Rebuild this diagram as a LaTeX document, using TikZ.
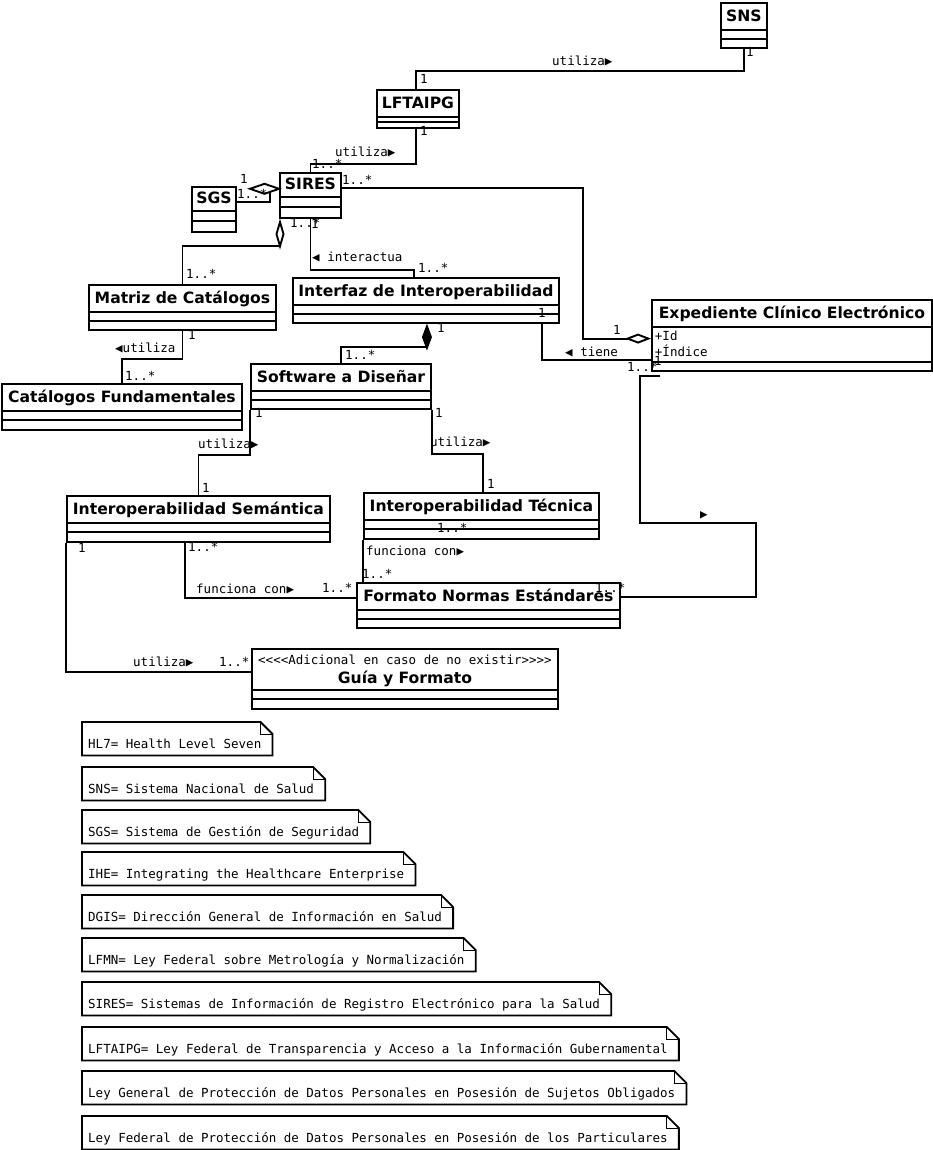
\documentclass[tikz,border=0pt]{standalone}
\usepackage{fontspec}
\setsansfont{DejaVu Sans}
\setmonofont{DejaVu Sans Mono}
\usetikzlibrary{shapes.multipart,arrows.meta}

\newcommand{\namefont}{\sffamily\bfseries\fontsize{15.6}{19}\selectfont}
\newcommand{\lblfont}{\normalfont\ttfamily\fontsize{12.5}{15}\selectfont}
% struts for the name compartment, empty compartments of a given height
\newcommand{\nstrut}{\rule[-7pt]{0pt}{25pt}}
\newcommand{\sstrut}{\rule[-6pt]{0pt}{22pt}}
\newcommand{\compbox}[1]{\hbox to 0.2pt{\rule{0pt}{#1}\hss}}
\newcommand{\emptyparts}[1]{\nodepart{two}\compbox{#1}\nodepart{three}\compbox{#1}}

\begin{document}
\begin{tikzpicture}[x=1pt,y=-1pt]
	\tikzstyle{cls}=[rectangle split, rectangle split parts=3, draw, line width=1.9pt, fill=white, anchor=north west, inner xsep=3pt, inner ysep=0pt, font=\namefont]
	\tikzstyle{link}=[draw, line width=1.9pt]
	\tikzstyle{lbl}=[anchor=west, inner sep=0pt, font=\lblfont, text height=9pt, text depth=0pt]
	\tikzstyle{note}=[anchor=north west, inner xsep=6pt, inner ysep=0pt, minimum height=33pt, text height=19pt, text depth=0pt, font=\lblfont, execute at end node={\hspace{5pt}}]
	\tikzstyle{notebox}=[draw, line width=1.8pt]
	\tikzstyle{fold}=[draw, line width=0.8pt]

	\useasboundingbox (0,0) rectangle (932,1150);

	% classes
	\node[cls, minimum width=46pt] (sns) at (720,2) {\nstrut SNS\emptyparts{7pt}};
	\node[cls, minimum width=82pt] (lftaipg) at (376,89) {\nstrut LFTAIPG\emptyparts{3.5pt}};
	\node[cls, minimum width=61pt] (sires) at (279,172) {\sstrut SIRES\emptyparts{8.5pt}};
	\node[cls, minimum width=44pt] (sgs) at (191,186) {\sstrut SGS\emptyparts{8.5pt}};
	\node[cls, minimum width=187pt] (matriz) at (88,284) {\nstrut Matriz de Catálogos\emptyparts{7pt}};
	\node[cls, minimum width=240pt] (catalogos) at (1,383) {\nstrut Catálogos Fundamentales\emptyparts{7.5pt}};
	\node[cls, minimum width=266pt] (interfaz) at (292,277) {\nstrut Interfaz de Interoperabilidad\emptyparts{7pt}};
	\node[cls, minimum width=180pt] (software) at (250,363) {\nstrut Software a Diseñar\emptyparts{7pt}};
	\node[cls, minimum width=280pt, rectangle split part align={center,left,center}] (expediente) at (651,299)
		{\nstrut Expediente Clínico Electrónico\nodepart{two}{\lblfont\begin{tabular}{@{}l@{}}\rule{0pt}{13pt}+Id\\+Índice\rule[-4pt]{0pt}{4pt}\end{tabular}}\nodepart{three}\compbox{7pt}};
	\node[cls, minimum width=263pt] (semantica) at (66,495) {\nstrut Interoperabilidad Semántica\emptyparts{7.5pt}};
	\node[cls, minimum width=235pt] (tecnica) at (363,492) {\nstrut Interoperabilidad Técnica\emptyparts{7.5pt}};
	\node[cls, minimum width=263pt] (formato) at (356,582) {\nstrut Formato Normas Estándares\emptyparts{7pt}};
	\node[cls, minimum width=306pt, align=center] (guia) at (251,648)
		{\lblfont\rule{0pt}{15pt}<<<<Adicional en caso de no existir>>>>\\\namefont Guía y Formato\rule[-5pt]{0pt}{5pt}\emptyparts{7.5pt}};

	% connectors
	\draw[link] (sns.south) -- ++(0,22) -| ([xshift=-2]lftaipg.north);
	\draw[link] ([xshift=-2]lftaipg.south) -- ++(0,35) -| (sires.north);
	\draw[link] ([yshift=7.5]sgs.east) -| ([xshift=-9,yshift=3]sires.west);
	\draw[link, fill=white] ([yshift=6.5]sires.west) -- ++(-14.5,-5) -- ++(-14.5,5) -- ++(14.5,5) -- cycle;
	\draw[link, -{Diamond[open, length=31pt, width=9pt]}] (matriz.north) -- ++(0,-38) -| ([xshift=1]sires.south west);
	\draw[link] (sires.south) -- ++(0,51) -| ([xshift=-12]interfaz.north);
	\draw[link, -{Diamond[open, length=26pt, width=10pt]}] ([yshift=7.5]sires.east) -- ++(241,0) |- ([yshift=-3]expediente.west);
	\draw[link] ([xshift=116]interfaz.south) |- ([yshift=-24]expediente.west);
	\draw[link, -{Diamond[length=27pt, width=10pt]}] (software.north) -- ++(0,-16) -| ([xshift=1]interfaz.south);
	\draw[link] (matriz.south) -- ++(0,28) -| (catalogos.north);
	\draw[link] (software.south west) -- ++(0,45) -| (semantica.north);
	\draw[link] (software.south east) -- ++(0,44) -| ([xshift=1.5]tecnica.north);
	\draw[link] ([xshift=-13.5]semantica.south) |- ([yshift=7.5]formato.west);
	\draw[link] (tecnica.south west) -- (tecnica.south west |- formato.north);
	\draw[link] (semantica.south west) |- ([yshift=7]guia.west);
	\draw[link] ([xshift=9,yshift=-4]expediente.south west) -- ++(-20,0) -- ++(0,147) -- ++(116,0) |- ([yshift=8.5]formato.east);

	% labels
	\node[lbl] (u1) at (552,61) {utiliza▶};
	\node[lbl] (m1) at (746,52) {1};
	\node[lbl] (m2) at (420,79) {1};
	\node[lbl] (m3) at (420,131) {1};
	\node[lbl] (u2) at (335,152) {utiliza▶};
	\node[lbl] (m4) at (312,164) {1..*};
	\node[lbl] (m5) at (240,179) {1};
	\node[lbl] (m6) at (237,194) {1..*};
	\node[lbl] (m7) at (342,180) {1..*};
	\node[lbl] (m8) at (290,223) {1..*};
	\node[lbl] (m9) at (311,224) {1};
	\node[lbl] (u3) at (312,257) {◀ interactua};
	\node[lbl] (m10) at (418,268) {1..*};
	\node[lbl] (m11) at (186,274) {1..*};
	\node[lbl] (m12) at (613,330) {1};
	\node[lbl] (m13) at (538,313) {1};
	\node[lbl] (u4) at (565,352) {◀ tiene};
	\node[lbl] (m14) at (654,361) {1};
	\node[lbl] (m15) at (627,367) {1..*};
	\node[lbl] (m16) at (437,328) {1};
	\node[lbl] (m17) at (345,355) {1..*};
	\node[lbl] (m18) at (188,335) {1};
	\node[lbl] (u5) at (115,348) {◀utiliza};
	\node[lbl] (m19) at (125,376) {1..*};
	\node[lbl] (m20) at (255,413) {1};
	\node[lbl] (m21) at (435,413) {1};
	\node[lbl] (u6) at (198,444) {utiliza▶};
	\node[lbl] (u7) at (430,442) {utiliza▶};
	\node[lbl] (m22) at (202,488) {1};
	\node[lbl] (m23) at (487,484) {1};
	\node[lbl] (m24) at (78,548) {1};
	\node[lbl] (m25) at (188,547) {1..*};
	\node[lbl] (u8) at (196,589) {funciona con▶};
	\node[lbl] (m26) at (322,588) {1..*};
	\node[lbl] (m27) at (437,528) {1..*};
	\node[lbl] (u9) at (366,551) {funciona con▶};
	\node[lbl] (m28) at (362,574) {1..*};
	\node[lbl] (m29) at (595,588) {1..*};
	\node[lbl] (u10) at (700,514) {▶};
	\node[lbl] (u11) at (133,662) {utiliza▶};
	\node[lbl] (m30) at (219,662) {1..*};

	% notes
	\foreach \ny/\nt [count=\i] in {722/{HL7= Health Level Seven},
		767/{SNS= Sistema Nacional de Salud},
		810/{SGS= Sistema de Gestión de Seguridad},
		852/{IHE= Integrating the Healthcare Enterprise},
		895/{DGIS= Dirección General de Información en Salud},
		938/{LFMN= Ley Federal sobre Metrología y Normalización},
		982/{SIRES= Sistemas de Información de Registro Electrónico para la Salud},
		1027/{LFTAIPG= Ley Federal de Transparencia y Acceso a la Información Gubernamental},
		1071/{Ley General de Protección de Datos Personales en Posesión de Sujetos Obligados},
		1116/{Ley Federal de Protección de Datos Personales en Posesión de los Particulares}}
	{
		\node[note] (note\i) at (82,\ny) {\nt};
		\draw[notebox] (note\i.south west) -- (note\i.north west) -- ([xshift=-12]note\i.north east) -- ([yshift=-12]note\i.north east) -- (note\i.south east) -- cycle;
		\draw[fold] ([xshift=-12]note\i.north east) |- ([yshift=-12]note\i.north east);
	}
\end{tikzpicture}
\end{document}
